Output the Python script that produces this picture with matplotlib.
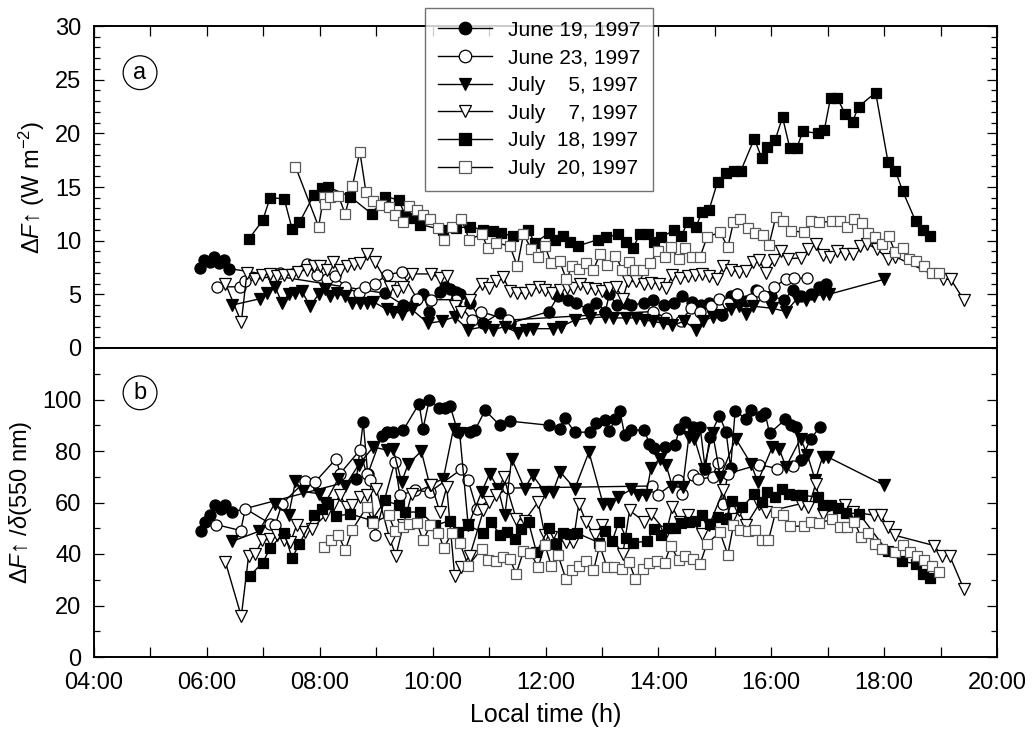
import matplotlib
matplotlib.use("Agg")
import matplotlib.pyplot as plt
from matplotlib.lines import Line2D

plt.rcParams['font.family'] = ['Liberation Sans', 'DejaVu Sans']
plt.rcParams['mathtext.fontset'] = 'custom'
plt.rcParams['mathtext.rm'] = 'Liberation Sans'
plt.rcParams['mathtext.it'] = 'Liberation Sans:italic'

# (local time in hours, value)
# panel (a): delta F up, W m-2
jun19_a = [(5.87, 7.5), (5.95, 8.2), (6.05, 8.0), (6.13, 8.5), (6.22, 7.9), (6.30, 8.2), (6.40, 7.4),
           (9.15, 5.1), (9.48, 4.0), (9.70, 4.5), (9.83, 5.0), (9.94, 3.4), (10.13, 5.2), (10.22, 5.7),
           (10.30, 5.5), (10.42, 5.2), (10.48, 5.0), (10.66, 4.2), (10.90, 2.3), (11.20, 3.3), (11.37, 2.3),
           (12.06, 3.4), (12.22, 4.8), (12.40, 4.5), (12.54, 4.2), (12.75, 3.6), (12.90, 4.2), (13.06, 3.4),
           (13.13, 5.0), (13.26, 4.0), (13.40, 4.2), (13.52, 4.0), (13.75, 4.2), (13.90, 4.5), (14.10, 4.0),
           (14.28, 4.2), (14.42, 4.8), (14.60, 4.3), (14.76, 4.0), (14.90, 4.2), (15.13, 3.1), (15.28, 4.8),
           (15.40, 5.0), (15.55, 4.4), (15.73, 5.4), (15.99, 4.8), (16.23, 4.5), (16.38, 5.4), (16.52, 4.8),
           (16.70, 5.0), (16.85, 5.7), (16.97, 6.0)]
jun23_a = [(6.18, 5.7), (6.59, 5.7), (6.68, 6.2), (7.18, 6.7), (7.30, 7.0), (7.77, 7.8), (7.95, 6.8),
           (8.12, 6.4), (8.27, 6.7), (8.45, 5.7), (8.69, 5.1), (8.80, 5.7), (8.98, 6.0), (9.19, 6.8),
           (9.45, 7.1), (9.72, 4.6), (9.98, 4.5), (10.42, 4.5), (10.69, 2.6), (10.85, 3.4), (11.34, 2.6),
           (13.90, 3.4), (14.14, 2.8), (14.40, 2.5), (14.58, 3.7), (14.73, 3.4), (14.93, 3.9), (15.08, 4.6),
           (15.23, 4.2), (15.40, 5.0), (15.64, 4.6), (15.76, 5.3), (15.88, 4.8), (16.05, 5.7), (16.26, 6.4),
           (16.40, 6.5), (16.64, 6.5)]
jul05_a = [(6.45, 4.0), (6.95, 4.6), (7.06, 5.1), (7.21, 5.7), (7.33, 4.2), (7.45, 5.0), (7.56, 5.1),
           (7.68, 5.3), (7.83, 3.9), (7.98, 5.0), (8.10, 5.5), (8.18, 4.8), (8.30, 5.1), (8.45, 4.8),
           (8.57, 4.2), (8.71, 4.2), (8.83, 4.2), (8.95, 4.3), (9.19, 3.6), (9.30, 3.4), (9.45, 3.2),
           (9.63, 3.6), (9.92, 2.3), (10.16, 2.5), (10.39, 2.9), (10.63, 1.7), (10.92, 2.0), (11.07, 1.7),
           (11.28, 2.0), (11.51, 1.4), (11.66, 1.7), (11.78, 1.8), (12.13, 1.8), (12.28, 2.0), (12.52, 2.6),
           (12.78, 2.8), (13.05, 2.9), (13.19, 2.8), (13.43, 2.8), (13.60, 2.8), (13.75, 2.6), (13.90, 2.5),
           (14.08, 2.3), (14.25, 2.1), (14.46, 2.5), (14.67, 1.7), (14.79, 2.5), (14.96, 2.9), (15.11, 3.1),
           (15.28, 3.6), (15.43, 3.9), (15.55, 3.2), (15.67, 3.9), (16.02, 3.7), (16.26, 3.4), (16.46, 4.6),
           (16.61, 4.5), (16.76, 4.8), (16.91, 5.0), (17.02, 5.0), (18.00, 6.4)]
jul07_a = [(6.33, 6.0), (6.61, 2.4), (6.71, 7.0), (6.86, 6.4), (6.98, 6.8), (7.12, 6.9), (7.24, 6.7),
           (7.36, 6.8), (7.51, 6.8), (7.62, 7.1), (7.77, 7.3), (7.89, 7.6), (8.01, 7.6), (8.12, 7.3),
           (8.24, 8.0), (8.36, 7.3), (8.48, 7.6), (8.60, 7.8), (8.71, 7.9), (8.84, 8.8), (8.98, 8.0),
           (9.24, 5.7), (9.36, 5.3), (9.48, 5.7), (9.63, 6.9), (9.98, 6.9), (10.13, 6.5), (10.25, 6.7),
           (10.39, 3.9), (10.51, 3.4), (10.66, 4.5), (10.87, 6.0), (11.00, 5.6), (11.13, 6.2), (11.25, 6.6),
           (11.37, 5.3), (11.50, 5.1), (11.63, 5.1), (11.75, 5.4), (11.89, 5.7), (11.99, 5.4), (12.12, 5.1),
           (12.25, 5.4), (12.38, 5.6), (12.49, 5.6), (12.62, 6.0), (12.73, 5.6), (12.87, 5.5), (13.00, 5.3),
           (13.13, 5.6), (13.25, 5.7), (13.37, 4.6), (13.46, 6.2), (13.61, 6.2), (13.75, 6.0), (13.87, 6.1),
           (14.01, 6.0), (14.14, 5.6), (14.25, 6.8), (14.38, 6.5), (14.52, 6.7), (14.65, 6.8), (14.77, 6.9),
           (14.90, 6.7), (15.03, 6.4), (15.15, 7.6), (15.28, 7.3), (15.43, 7.1), (15.55, 7.2), (15.68, 8.0),
           (15.79, 8.2), (15.90, 7.0), (16.05, 8.2), (16.17, 9.0), (16.29, 8.3), (16.52, 8.4), (16.66, 9.2),
           (16.79, 9.7), (16.91, 8.7), (17.04, 8.5), (17.17, 9.0), (17.31, 8.8), (17.44, 8.8), (17.57, 9.5),
           (17.70, 9.7), (17.88, 9.2), (18.06, 8.3), (18.20, 8.5), (19.04, 6.4), (19.18, 6.4), (19.41, 4.5)]
jul18_a = [(6.75, 10.2), (6.99, 11.9), (7.12, 14.0), (7.37, 13.9), (7.51, 11.1), (7.64, 11.7), (7.90, 14.3),
           (8.04, 14.9), (8.15, 15.0), (8.54, 14.1), (8.92, 12.5), (9.16, 14.1), (9.40, 13.8), (9.51, 12.4),
           (9.63, 12.1), (9.78, 11.5), (10.19, 11.0), (10.42, 11.2), (10.66, 11.3), (10.90, 11.0), (11.07, 10.9),
           (11.22, 10.7), (11.43, 10.4), (11.69, 11.0), (11.81, 9.8), (12.06, 10.7), (12.16, 10.1), (12.31, 10.4),
           (12.43, 9.9), (12.57, 9.5), (12.93, 10.1), (13.08, 10.3), (13.28, 10.6), (13.43, 9.9), (13.55, 9.3),
           (13.67, 10.6), (13.81, 10.6), (13.93, 9.9), (14.05, 10.3), (14.28, 11.0), (14.40, 10.4), (14.52, 11.7),
           (14.67, 11.3), (14.77, 12.7), (14.90, 12.9), (15.05, 15.5), (15.20, 16.3), (15.34, 16.5), (15.46, 16.5),
           (15.70, 19.5), (15.83, 17.7), (15.93, 18.7), (16.07, 19.4), (16.20, 21.5), (16.33, 18.6), (16.45, 18.6),
           (16.56, 20.2), (16.82, 20.0), (16.94, 20.3), (17.05, 23.3), (17.17, 23.3), (17.31, 21.8), (17.44, 21.1),
           (17.55, 22.5), (17.85, 23.8), (18.07, 17.3), (18.20, 16.5), (18.33, 14.6), (18.56, 11.8), (18.69, 11.0),
           (18.82, 10.4)]
jul20_a = [(7.57, 16.9), (7.98, 11.3), (8.07, 14.1), (8.10, 13.4), (8.18, 14.1), (8.33, 14.2), (8.45, 12.5),
           (8.58, 15.1), (8.71, 18.3), (8.82, 14.5), (8.95, 13.7), (9.08, 13.3), (9.22, 13.1), (9.33, 12.4),
           (9.47, 11.7), (9.59, 13.2), (9.72, 12.9), (9.83, 12.4), (9.96, 12.0), (10.10, 11.2), (10.20, 10.1),
           (10.34, 11.3), (10.51, 12.0), (10.65, 10.1), (10.87, 10.6), (10.98, 9.3), (11.13, 9.8), (11.37, 9.5),
           (11.50, 7.6), (11.61, 10.6), (11.75, 9.2), (11.87, 8.5), (11.99, 9.5), (12.10, 7.9), (12.25, 8.1),
           (12.37, 6.4), (12.47, 7.6), (12.60, 7.4), (12.72, 7.9), (12.85, 7.3), (12.97, 8.8), (13.09, 7.7),
           (13.24, 8.6), (13.36, 7.3), (13.48, 8.0), (13.59, 7.3), (13.72, 7.3), (13.85, 7.9), (13.99, 9.0),
           (14.11, 8.5), (14.22, 9.4), (14.36, 8.3), (14.48, 9.3), (14.60, 8.5), (14.74, 8.5), (14.86, 10.3),
           (15.09, 10.8), (15.23, 9.4), (15.33, 11.7), (15.44, 12.0), (15.58, 11.2), (15.71, 10.7), (15.85, 10.5),
           (15.96, 9.6), (16.08, 12.2), (16.21, 11.8), (16.35, 10.9), (16.58, 10.8), (16.71, 11.8), (16.84, 11.7),
           (17.08, 11.8), (17.21, 11.8), (17.34, 11.3), (17.47, 12.0), (17.60, 11.6), (17.72, 10.7), (17.84, 10.3),
           (17.97, 9.7), (18.08, 10.4), (18.20, 8.9), (18.33, 9.3), (18.44, 8.3), (18.57, 8.1), (18.70, 7.6),
           (18.84, 7.0), (18.97, 7.0)]

# panel (b): delta F up / delta(550 nm)
jun19_b = [(5.89, 49.1), (5.97, 52.4), (6.06, 55.0), (6.15, 58.9), (6.25, 57.5), (6.33, 58.9), (6.45, 56.3),
           (8.65, 69.0), (8.77, 91.3), (8.85, 71.0), (9.10, 86.0), (9.20, 87.4), (9.30, 87.4), (9.48, 88.1),
           (9.76, 98.4), (9.83, 88.7), (9.94, 99.8), (10.12, 96.8), (10.22, 96.8), (10.31, 97.5), (10.45, 87.2),
           (10.66, 87.4), (10.75, 88.1), (10.93, 95.8), (11.19, 90.0), (11.37, 91.6), (12.06, 90.0), (12.25, 88.7),
           (12.34, 92.9), (12.52, 87.2), (12.78, 87.4), (12.89, 90.7), (13.05, 92.0), (13.13, 87.7), (13.24, 92.6),
           (13.32, 95.5), (13.40, 86.4), (13.52, 88.1), (13.75, 88.1), (13.84, 82.9), (13.93, 81.2), (14.11, 81.6),
           (14.30, 82.5), (14.37, 88.7), (14.48, 91.3), (14.61, 89.4), (14.74, 89.4), (14.83, 72.9), (14.91, 85.5),
           (15.08, 93.7), (15.20, 87.4), (15.28, 73.4), (15.36, 95.5), (15.55, 92.6), (15.64, 95.8), (15.82, 93.7),
           (15.89, 94.9), (15.97, 86.8), (16.25, 92.3), (16.35, 90.0), (16.44, 89.4), (16.52, 76.4), (16.70, 84.6),
           (16.86, 89.4)]
jun23_b = [(6.17, 51.4), (6.60, 49.1), (6.68, 57.6), (7.12, 51.8), (7.21, 51.1), (7.33, 59.5), (7.74, 68.2),
           (7.92, 68.0), (8.29, 77.0), (8.36, 71.2), (8.71, 80.3), (8.83, 71.2), (8.89, 68.6), (8.98, 47.5),
           (9.33, 75.8), (9.42, 62.8), (9.69, 64.7), (9.95, 64.1), (10.51, 72.9), (10.63, 68.6), (10.78, 57.6),
           (11.34, 65.6), (13.89, 66.4), (13.99, 63.0), (14.34, 68.6), (14.42, 63.4), (14.61, 70.6), (14.70, 69.0),
           (14.96, 69.9), (15.05, 75.5), (15.14, 59.5), (15.23, 71.2), (15.78, 74.7), (16.11, 73.2), (16.38, 74.2)]
jul05_b = [(6.45, 44.9), (6.92, 48.8), (7.20, 59.5), (7.45, 55.3), (7.57, 68.2), (7.71, 64.3), (7.98, 63.4),
           (8.10, 59.9), (8.33, 69.3), (8.45, 66.4), (8.69, 74.7), (8.95, 81.6), (9.19, 80.3), (9.30, 80.7),
           (9.45, 68.0), (9.57, 75.1), (9.80, 79.9), (9.95, 66.7), (10.19, 69.3), (10.37, 88.7), (10.48, 86.8),
           (10.63, 51.1), (10.87, 64.1), (11.01, 71.2), (11.16, 65.4), (11.28, 55.0), (11.40, 77.0), (11.63, 65.4),
           (11.77, 70.6), (11.99, 64.1), (12.13, 64.1), (12.26, 71.9), (12.52, 65.4), (12.77, 79.6), (13.02, 59.5),
           (13.14, 59.5), (13.28, 62.1), (13.52, 65.1), (13.64, 63.0), (13.78, 62.8), (13.87, 73.4), (14.02, 77.0),
           (14.14, 74.4), (14.25, 66.0), (14.43, 66.0), (14.54, 85.5), (14.64, 84.8), (14.80, 73.0), (14.96, 87.0),
           (15.10, 70.0), (15.37, 84.8), (15.64, 75.1), (15.76, 68.0), (16.02, 81.6), (16.14, 80.9), (16.26, 73.8),
           (16.52, 84.8), (16.64, 78.6), (16.78, 68.6), (16.91, 77.7), (17.00, 77.7), (18.00, 66.7)]
jul07_b = [(6.33, 36.8), (6.61, 15.8), (6.74, 39.4), (6.86, 40.1), (6.98, 45.3), (7.12, 45.9), (7.24, 47.2),
           (7.36, 45.3), (7.48, 44.6), (7.59, 51.1), (7.74, 48.5), (7.86, 49.8), (8.10, 55.0), (8.24, 58.9),
           (8.36, 62.8), (8.48, 58.2), (8.58, 58.9), (8.71, 62.1), (8.83, 62.8), (9.00, 65.4), (9.24, 45.9),
           (9.35, 39.4), (9.48, 51.1), (9.63, 63.4), (9.98, 66.7), (10.13, 56.3), (10.25, 66.0), (10.39, 31.6),
           (10.51, 34.9), (10.66, 39.4), (10.90, 56.9), (11.00, 60.2), (11.13, 62.8), (11.26, 69.9), (11.48, 53.7),
           (11.63, 53.0), (11.87, 60.2), (11.99, 47.2), (12.10, 46.6), (12.37, 44.6), (12.49, 44.6), (12.59, 59.5),
           (12.72, 52.4), (12.87, 47.2), (13.00, 51.4), (13.37, 40.1), (13.49, 56.9), (13.75, 52.6), (13.87, 55.6),
           (14.14, 48.5), (14.25, 58.2), (14.38, 52.4), (14.52, 55.0), (14.77, 47.9), (14.90, 51.1), (15.15, 64.7),
           (15.28, 53.7), (15.42, 56.9), (15.55, 51.1), (15.79, 59.5), (15.90, 56.3), (16.52, 59.5), (16.66, 58.2),
           (16.79, 67.3), (16.91, 55.6), (17.31, 59.1), (17.44, 56.5), (17.82, 55.0), (17.94, 55.3), (18.06, 50.5),
           (18.20, 47.2), (18.88, 43.3), (19.03, 39.4), (19.16, 39.4), (19.41, 26.5)]
jul18_b = [(6.76, 31.6), (6.99, 36.6), (7.12, 42.3), (7.37, 48.2), (7.51, 38.4), (7.64, 44.0), (7.90, 55.0),
           (8.04, 57.6), (8.15, 59.5), (8.29, 54.7), (8.54, 55.6), (8.92, 53.0), (9.16, 60.8), (9.40, 58.9),
           (9.51, 56.3), (9.78, 56.3), (10.04, 51.1), (10.31, 53.0), (10.45, 48.5), (10.63, 51.1), (10.90, 48.2),
           (11.04, 52.4), (11.19, 47.5), (11.31, 48.5), (11.46, 45.9), (11.57, 49.8), (11.70, 52.4), (11.84, 40.7),
           (12.06, 50.1), (12.18, 44.0), (12.31, 48.2), (12.43, 47.9), (12.55, 48.2), (12.95, 44.4), (13.06, 48.8),
           (13.18, 44.9), (13.30, 52.6), (13.43, 46.2), (13.55, 44.4), (13.79, 44.9), (13.93, 49.8), (14.05, 47.2),
           (14.17, 50.1), (14.30, 50.1), (14.40, 52.1), (14.54, 52.4), (14.65, 53.0), (14.77, 55.3), (14.91, 51.8),
           (15.05, 54.4), (15.20, 53.7), (15.30, 60.4), (15.49, 58.2), (15.70, 63.4), (15.83, 60.2), (15.93, 64.1),
           (16.07, 62.1), (16.19, 65.4), (16.32, 63.4), (16.44, 63.0), (16.55, 62.8), (16.82, 62.1), (16.92, 59.1),
           (17.05, 58.9), (17.19, 57.9), (17.32, 56.0), (17.56, 55.6), (18.06, 41.0), (18.32, 37.1), (18.56, 36.2),
           (18.69, 32.3), (18.82, 30.6)]
jul20_b = [(8.08, 42.7), (8.20, 45.3), (8.33, 47.5), (8.45, 41.4), (8.58, 49.5), (8.83, 58.2), (8.95, 52.1),
           (9.22, 55.0), (9.33, 49.1), (9.47, 50.5), (9.59, 51.8), (9.72, 52.1), (9.83, 45.3), (9.96, 51.1),
           (10.10, 48.2), (10.20, 42.3), (10.34, 48.2), (10.48, 44.4), (10.63, 35.5), (10.87, 42.0), (10.98, 37.5),
           (11.12, 37.1), (11.24, 38.8), (11.37, 37.9), (11.48, 32.3), (11.61, 41.0), (11.73, 40.5), (11.87, 34.9),
           (11.99, 43.6), (12.10, 35.5), (12.22, 39.7), (12.36, 30.4), (12.47, 33.6), (12.60, 35.5), (12.72, 37.1),
           (12.85, 33.6), (12.96, 43.3), (13.09, 34.9), (13.22, 34.9), (13.36, 34.2), (13.48, 36.8), (13.59, 30.4),
           (13.72, 34.0), (13.84, 36.6), (13.97, 37.1), (14.11, 36.6), (14.22, 43.3), (14.36, 37.5), (14.48, 39.4),
           (14.61, 38.1), (14.74, 36.2), (14.86, 44.0), (15.09, 48.5), (15.23, 39.7), (15.33, 51.1), (15.44, 49.5),
           (15.58, 48.8), (15.71, 49.5), (15.83, 45.3), (15.95, 45.3), (16.08, 56.5), (16.21, 55.0), (16.33, 50.8),
           (16.58, 50.8), (16.70, 52.4), (16.84, 52.1), (17.08, 53.4), (17.21, 50.5), (17.35, 50.5), (17.47, 52.6),
           (17.59, 46.6), (17.72, 48.2), (17.84, 44.0), (17.96, 41.8), (18.20, 40.7), (18.33, 43.6), (18.45, 40.7),
           (18.59, 39.4), (18.70, 37.5), (18.84, 35.5), (18.97, 33.2)]

labels = ['June 19, 1997', 'June 23, 1997', 'July    5, 1997', 'July    7, 1997',
          'July  18, 1997', 'July  20, 1997']
x_ticks = list(range(4, 21))
x_ticklabels = ['%02d:00' % h if h % 2 == 0 else '' for h in x_ticks]

# marker, face colour, edge colour for each date
styles = [('o', 'black', 'black'), ('o', 'white', 'black'), ('v', 'black', 'black'),
          ('v', 'white', 'black'), ('s', 'black', 'black'), ('s', 'white', '0.35')]
msizes = [8, 8, 8, 8, 7, 7]

fig = plt.figure(figsize=(10.33, 7.38), dpi=100)
W, H = 1033.0, 738.0
ax_a = fig.add_axes([94 / W, (H - 348) / H, 903 / W, 322 / H])
ax_b = fig.add_axes([94 / W, (H - 657) / H, 903 / W, 309 / H])

panels = [(ax_a, [jun19_a, jun23_a, jul05_a, jul07_a, jul18_a, jul20_a]),
          (ax_b, [jun19_b, jun23_b, jul05_b, jul07_b, jul18_b, jul20_b])]

for ax, series in panels:
    for data, (m, fc, ec), ms in zip(series, styles, msizes):
        t, v = zip(*data)
        ax.plot(t, v, color='black', lw=1.0, marker=m, ms=ms, mfc=fc, mec=ec, mew=0.9)
    ax.set_xlim(4, 20)
    ax.set_xticks(x_ticks)
    for s in ax.spines.values():
        s.set_linewidth(1.4)
    ax.tick_params(which='both', direction='in', right=True, labelsize=17, width=0.9)
    ax.tick_params(which='major', length=7)
    ax.tick_params(which='minor', length=4)
    ax.tick_params(axis='y', pad=9)
    ax.tick_params(axis='x', pad=11)

ax_a.set_ylim(0, 30)
ax_a.set_yticks(range(0, 31, 5))
ax_a.set_yticks(range(0, 31), minor=True)
ax_a.set_xticklabels([])
ax_a.tick_params(axis='x', top=True, bottom=False)

ax_b.set_ylim(0, 120)
ax_b.set_yticks(range(0, 101, 20))
ax_b.set_yticks(range(0, 121, 10), minor=True)
ax_b.set_xticklabels(x_ticklabels)
ax_b.tick_params(axis='x', top=False, bottom=True)

ax_a.set_ylabel('Δ$F$↑ (W m$^{-2}$)', fontsize=17, labelpad=6)
ax_b.set_ylabel('Δ$F$↑ /$δ$(550 nm)', fontsize=17, labelpad=6)
ax_b.set_xlabel('Local time (h)', fontsize=18, labelpad=6)

for ax, letter in [(ax_a, 'a'), (ax_b, 'b')]:
    ax.text(0.051, 0.855, letter, transform=ax.transAxes, fontsize=17, ha='center', va='center',
            bbox=dict(boxstyle='circle,pad=0.25', fc='white', ec='black', lw=0.9))

handles = [Line2D([], [], color='black', lw=1.0, marker=m, ms=ms + 1, mfc=fc, mec=ec, mew=0.9)
           for (m, fc, ec), ms in zip(styles, msizes)]
leg = fig.legend(handles, labels, loc='upper left', bbox_to_anchor=(425 / W, 1 - 8 / H),
                 borderaxespad=0, fontsize=15, frameon=True, fancybox=False, edgecolor='0.3',
                 handlelength=2.6, handletextpad=0.8, labelspacing=0.42, borderpad=0.6)
leg.get_frame().set_linewidth(1.0)

fig.savefig('out.png', dpi=100)
